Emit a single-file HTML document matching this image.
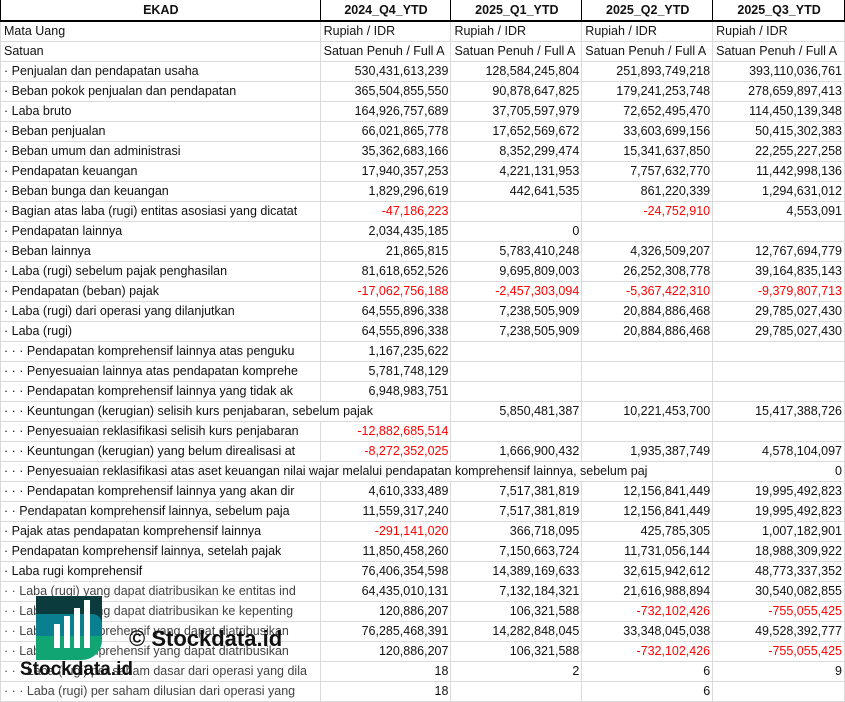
<!DOCTYPE html>
<html><head><meta charset="utf-8"><style>
body{margin:0;width:845px;height:701px;overflow:hidden;background:#fff;font-family:"Liberation Sans",Arial,sans-serif;font-size:12.5px;color:#111;position:relative}
table{border-collapse:collapse;table-layout:fixed;position:absolute;left:0;top:0}
td{height:19px;padding:0 2px 0 3px;border:1px solid #dadada;white-space:nowrap;overflow:hidden;line-height:19px}
tr.h td{height:20px;font-weight:bold;text-align:center;border:1px solid #000;border-bottom:2px solid #000;border-top:none}
td.n{text-align:right}
.r{color:#f00}
.g td:first-child{color:#444}
.wm{position:absolute;font-weight:bold;color:#111}
</style></head><body>
<table>
<colgroup><col style="width:320px"><col style="width:131px"><col style="width:131px"><col style="width:131px"><col style="width:132px"></colgroup>
<tr class="h"><td>EKAD</td><td>2024_Q4_YTD</td><td>2025_Q1_YTD</td><td>2025_Q2_YTD</td><td>2025_Q3_YTD</td></tr>
<tr><td>Mata Uang</td><td>Rupiah / IDR</td><td>Rupiah / IDR</td><td>Rupiah / IDR</td><td>Rupiah / IDR</td></tr>
<tr><td>Satuan</td><td>Satuan Penuh / Full A</td><td>Satuan Penuh / Full A</td><td>Satuan Penuh / Full A</td><td>Satuan Penuh / Full A</td></tr>
<tr><td>· Penjualan dan pendapatan usaha</td><td class="n">530,431,613,239</td><td class="n">128,584,245,804</td><td class="n">251,893,749,218</td><td class="n">393,110,036,761</td></tr>
<tr><td>· Beban pokok penjualan dan pendapatan</td><td class="n">365,504,855,550</td><td class="n">90,878,647,825</td><td class="n">179,241,253,748</td><td class="n">278,659,897,413</td></tr>
<tr><td>· Laba bruto</td><td class="n">164,926,757,689</td><td class="n">37,705,597,979</td><td class="n">72,652,495,470</td><td class="n">114,450,139,348</td></tr>
<tr><td>· Beban penjualan</td><td class="n">66,021,865,778</td><td class="n">17,652,569,672</td><td class="n">33,603,699,156</td><td class="n">50,415,302,383</td></tr>
<tr><td>· Beban umum dan administrasi</td><td class="n">35,362,683,166</td><td class="n">8,352,299,474</td><td class="n">15,341,637,850</td><td class="n">22,255,227,258</td></tr>
<tr><td>· Pendapatan keuangan</td><td class="n">17,940,357,253</td><td class="n">4,221,131,953</td><td class="n">7,757,632,770</td><td class="n">11,442,998,136</td></tr>
<tr><td>· Beban bunga dan keuangan</td><td class="n">1,829,296,619</td><td class="n">442,641,535</td><td class="n">861,220,339</td><td class="n">1,294,631,012</td></tr>
<tr><td>· Bagian atas laba (rugi) entitas asosiasi yang dicatat</td><td class="n r">-47,186,223</td><td></td><td class="n r">-24,752,910</td><td class="n">4,553,091</td></tr>
<tr><td>· Pendapatan lainnya</td><td class="n">2,034,435,185</td><td class="n">0</td><td></td><td></td></tr>
<tr><td>· Beban lainnya</td><td class="n">21,865,815</td><td class="n">5,783,410,248</td><td class="n">4,326,509,207</td><td class="n">12,767,694,779</td></tr>
<tr><td>· Laba (rugi) sebelum pajak penghasilan</td><td class="n">81,618,652,526</td><td class="n">9,695,809,003</td><td class="n">26,252,308,778</td><td class="n">39,164,835,143</td></tr>
<tr><td>· Pendapatan (beban) pajak</td><td class="n r">-17,062,756,188</td><td class="n r">-2,457,303,094</td><td class="n r">-5,367,422,310</td><td class="n r">-9,379,807,713</td></tr>
<tr><td>· Laba (rugi) dari operasi yang dilanjutkan</td><td class="n">64,555,896,338</td><td class="n">7,238,505,909</td><td class="n">20,884,886,468</td><td class="n">29,785,027,430</td></tr>
<tr><td>· Laba (rugi)</td><td class="n">64,555,896,338</td><td class="n">7,238,505,909</td><td class="n">20,884,886,468</td><td class="n">29,785,027,430</td></tr>
<tr><td>· · · Pendapatan komprehensif lainnya atas penguku</td><td class="n">1,167,235,622</td><td></td><td></td><td></td></tr>
<tr><td>· · · Penyesuaian lainnya atas pendapatan komprehe</td><td class="n">5,781,748,129</td><td></td><td></td><td></td></tr>
<tr><td>· · · Pendapatan komprehensif lainnya yang tidak ak</td><td class="n">6,948,983,751</td><td></td><td></td><td></td></tr>
<tr><td colspan="2">· · · Keuntungan (kerugian) selisih kurs penjabaran, sebelum pajak</td><td class="n">5,850,481,387</td><td class="n">10,221,453,700</td><td class="n">15,417,388,726</td></tr>
<tr><td>· · · Penyesuaian reklasifikasi selisih kurs penjabaran</td><td class="n r">-12,882,685,514</td><td></td><td></td><td></td></tr>
<tr><td>· · · Keuntungan (kerugian) yang belum direalisasi at</td><td class="n r">-8,272,352,025</td><td class="n">1,666,900,432</td><td class="n">1,935,387,749</td><td class="n">4,578,104,097</td></tr>
<tr><td colspan="4">· · · Penyesuaian reklasifikasi atas aset keuangan nilai wajar melalui pendapatan komprehensif lainnya, sebelum paj</td><td class="n">0</td></tr>
<tr><td>· · · Pendapatan komprehensif lainnya yang akan dir</td><td class="n">4,610,333,489</td><td class="n">7,517,381,819</td><td class="n">12,156,841,449</td><td class="n">19,995,492,823</td></tr>
<tr><td>· · Pendapatan komprehensif lainnya, sebelum paja</td><td class="n">11,559,317,240</td><td class="n">7,517,381,819</td><td class="n">12,156,841,449</td><td class="n">19,995,492,823</td></tr>
<tr><td>· Pajak atas pendapatan komprehensif lainnya</td><td class="n r">-291,141,020</td><td class="n">366,718,095</td><td class="n">425,785,305</td><td class="n">1,007,182,901</td></tr>
<tr><td>· Pendapatan komprehensif lainnya, setelah pajak</td><td class="n">11,850,458,260</td><td class="n">7,150,663,724</td><td class="n">11,731,056,144</td><td class="n">18,988,309,922</td></tr>
<tr><td>· Laba rugi komprehensif</td><td class="n">76,406,354,598</td><td class="n">14,389,169,633</td><td class="n">32,615,942,612</td><td class="n">48,773,337,352</td></tr>
<tr class="g"><td>· · Laba (rugi) yang dapat diatribusikan ke entitas ind</td><td class="n">64,435,010,131</td><td class="n">7,132,184,321</td><td class="n">21,616,988,894</td><td class="n">30,540,082,855</td></tr>
<tr class="g"><td>· · Laba (rugi) yang dapat diatribusikan ke kepenting</td><td class="n">120,886,207</td><td class="n">106,321,588</td><td class="n r">-732,102,426</td><td class="n r">-755,055,425</td></tr>
<tr class="g"><td>· · Laba rugi komprehensif yang dapat diatribusikan</td><td class="n">76,285,468,391</td><td class="n">14,282,848,045</td><td class="n">33,348,045,038</td><td class="n">49,528,392,777</td></tr>
<tr class="g"><td>· · Laba rugi komprehensif yang dapat diatribusikan</td><td class="n">120,886,207</td><td class="n">106,321,588</td><td class="n r">-732,102,426</td><td class="n r">-755,055,425</td></tr>
<tr class="g"><td>· · · Laba (rugi) per saham dasar dari operasi yang dila</td><td class="n">18</td><td class="n">2</td><td class="n">6</td><td class="n">9</td></tr>
<tr class="g"><td>· · · Laba (rugi) per saham dilusian dari operasi yang</td><td class="n">18</td><td></td><td class="n">6</td><td></td></tr>
</table>
<svg style="position:absolute;left:36px;top:596px" width="68" height="64" viewBox="0 0 68 64">
<path d="M0 0H66V30H0Z" fill="#0b3b3d"/>
<path d="M0 18H56A10 10 0 0 1 66 28V40H0Z" fill="#0a7f8f"/>
<path d="M0 40H66V44A20 20 0 0 1 46 64H0Z" fill="#10a572"/>
<rect x="18" y="28" width="6" height="24" fill="#fff"/><rect x="28" y="20" width="6" height="32" fill="#fff"/><rect x="38" y="12" width="6" height="40" fill="#fff"/><rect x="48" y="4" width="6" height="48" fill="#fff"/>
</svg>
<div class="wm" style="left:20px;top:659px;font-size:19px">Stockdata.id</div>
<div class="wm" style="left:129px;top:626px;font-size:22px">© Stockdata.id</div>
</body></html>
